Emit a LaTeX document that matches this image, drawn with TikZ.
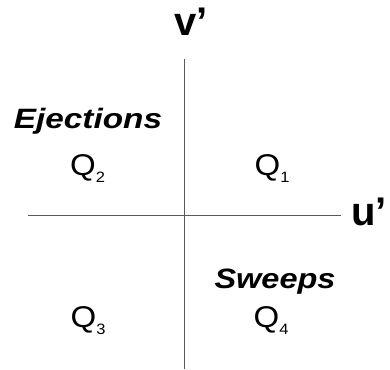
\documentclass[tikz,border=0pt]{standalone}
\usepackage{fontspec}
\usepackage{graphicx}
\setmainfont{Liberation Sans}
\newcommand{\quadlab}[1]{\scalebox{1.1}[1]{Q\raisebox{-7pt}{\fontsize{15}{15}\selectfont #1}}}
\tikzset{
  axis/.style={draw=black!65, line width=0.9pt},
  axlabel/.style={inner sep=0pt, anchor=base west, font=\fontsize{40}{42}\selectfont\bfseries},
  quad/.style={inner sep=0pt, anchor=base west, font=\fontsize{30}{32}\selectfont},
  kind/.style={inner sep=0pt, anchor=base, font=\fontsize{28}{30}\selectfont\bfseries\itshape},
}
\begin{document}
\begin{tikzpicture}[x=1pt,y=-1pt]
\useasboundingbox (0,0) rectangle (390,369);
\coordinate (vtop) at (184.5,59);
\coordinate (vbot) at (184.5,369);
\coordinate (hleft) at (28,215);
\coordinate (hright) at (341,215);
\draw[axis] (vtop) -- (vbot);
\draw[axis] (hleft) -- (hright);
\node[axlabel] (v) at (174,36) {v’};
\node[axlabel] (u) at (351,225) {u’};
\node[kind] (ej) at (88,128) {\scalebox{1.19}[1]{Ejections}};
\node[quad] (q2) at (70,175) {\quadlab{2}};
\node[quad] (q1) at (254.5,175) {\quadlab{1}};
\node[kind] (sw) at (275,288) {\scalebox{1.16}[1]{Sweeps}};
\node[quad] (q3) at (70.5,327) {\quadlab{3}};
\node[quad] (q4) at (253.5,327) {\quadlab{4}};
\end{tikzpicture}
\end{document}
